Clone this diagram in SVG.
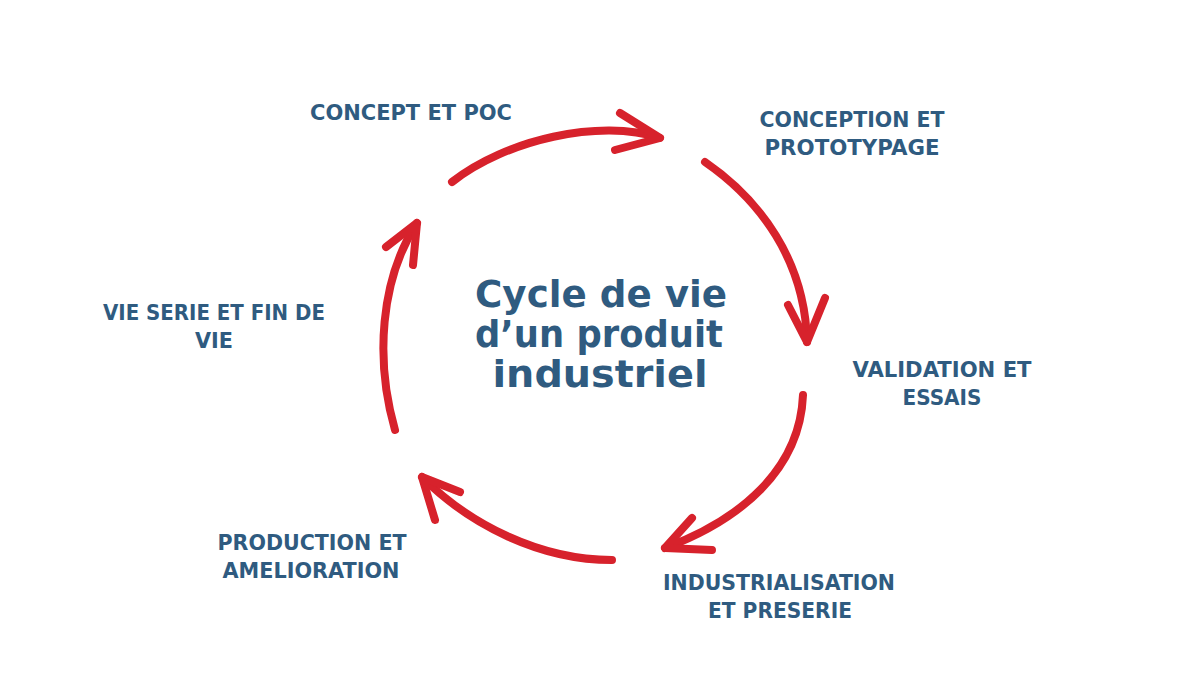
<svg xmlns="http://www.w3.org/2000/svg" width="1200" height="675" viewBox="0 0 1200 675">
  <style>
    .arrow { fill: none; stroke: #D7222C; stroke-width: 8; stroke-linecap: round; stroke-linejoin: round; }
    .label { font-family: "DejaVu Sans", "Liberation Sans", sans-serif; font-weight: bold; font-size: 22px; fill: #2F5B80; text-anchor: middle; }
    .title { font-family: "DejaVu Sans", "Liberation Sans", sans-serif; font-weight: bold; font-size: 38px; fill: #2F5B80; text-anchor: middle; }
  </style>
  <rect width="1200" height="675" fill="#FFFFFF"/>

  <g id="connectors">
    <g id="arrow-top">
      <path class="arrow" d="M452,182 C505,140 600,118 660,138"/>
      <path class="arrow" d="M620,113 L660,138 L615,150"/>
    </g>
    <g id="arrow-right">
      <path class="arrow" d="M705,162 C760,200 805,260 807,342"/>
      <path class="arrow" d="M788,305 L807,342 L825,298"/>
    </g>
    <g id="arrow-bottom-right">
      <path class="arrow" d="M803,395 C800,470 740,520 665,548"/>
      <path class="arrow" d="M692,518 L665,548 L712,550"/>
    </g>
    <g id="arrow-bottom">
      <path class="arrow" d="M612,560 C540,560 470,525 422,477"/>
      <path class="arrow" d="M460,492 L422,477 L435,520"/>
    </g>
    <g id="arrow-left">
      <path class="arrow" d="M395,430 C375,360 380,280 417,223"/>
      <path class="arrow" d="M386,247 L417,223 L413,265"/>
    </g>
  </g>

  <g id="title">
    <text class="title" x="601" y="307" textLength="252" lengthAdjust="spacingAndGlyphs">Cycle de vie</text>
    <text class="title" x="599" y="347" textLength="248" lengthAdjust="spacingAndGlyphs">d’un produit</text>
    <text class="title" x="600" y="387" textLength="215" lengthAdjust="spacingAndGlyphs">industriel</text>
  </g>

  <g id="node-concept">
    <text class="label" x="411" y="120" textLength="202" lengthAdjust="spacingAndGlyphs">CONCEPT ET POC</text>
  </g>
  <g id="node-conception">
    <text class="label" x="852" y="127" textLength="185" lengthAdjust="spacingAndGlyphs">CONCEPTION ET</text>
    <text class="label" x="852" y="155" textLength="175" lengthAdjust="spacingAndGlyphs">PROTOTYPAGE</text>
  </g>
  <g id="node-validation">
    <text class="label" x="942" y="377" textLength="179" lengthAdjust="spacingAndGlyphs">VALIDATION ET</text>
    <text class="label" x="942" y="405" textLength="79" lengthAdjust="spacingAndGlyphs">ESSAIS</text>
  </g>
  <g id="node-industrialisation">
    <text class="label" x="779" y="590" textLength="232" lengthAdjust="spacingAndGlyphs">INDUSTRIALISATION</text>
    <text class="label" x="780" y="618" textLength="144" lengthAdjust="spacingAndGlyphs">ET PRESERIE</text>
  </g>
  <g id="node-production">
    <text class="label" x="312" y="550" textLength="189" lengthAdjust="spacingAndGlyphs">PRODUCTION ET</text>
    <text class="label" x="311" y="578" textLength="177" lengthAdjust="spacingAndGlyphs">AMELIORATION</text>
  </g>
  <g id="node-vie-serie">
    <text class="label" x="214" y="320" textLength="222" lengthAdjust="spacingAndGlyphs">VIE SERIE ET FIN DE</text>
    <text class="label" x="214" y="348" textLength="38" lengthAdjust="spacingAndGlyphs">VIE</text>
  </g>
</svg>
